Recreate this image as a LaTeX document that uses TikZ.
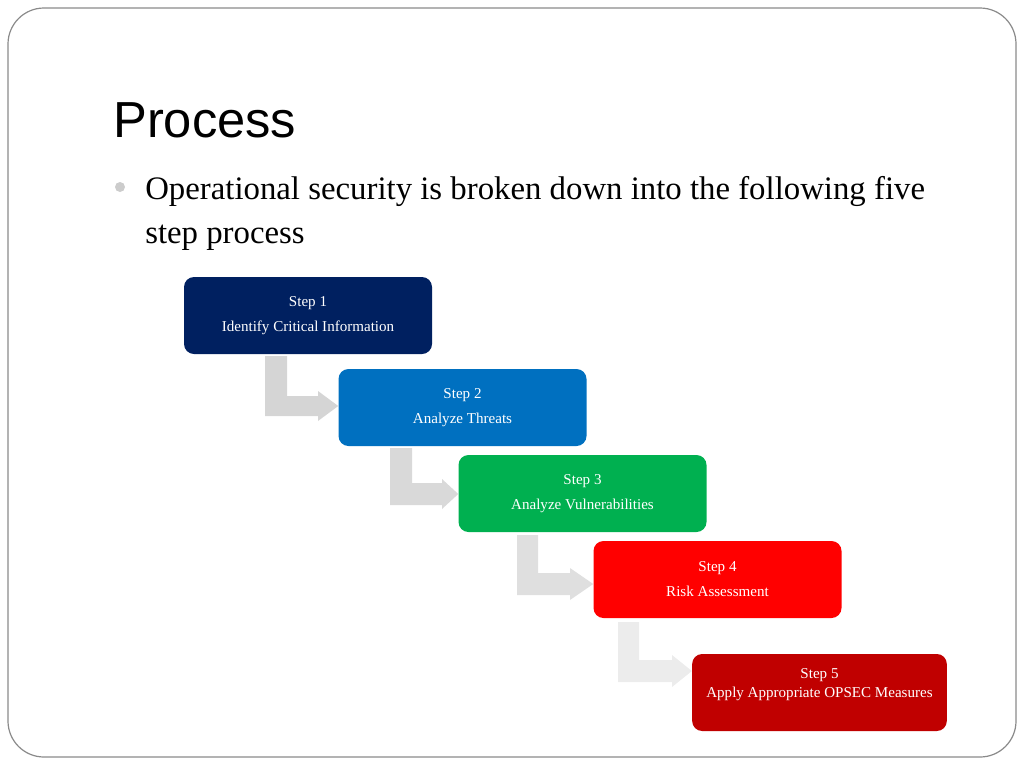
\documentclass[tikz,border=0pt]{standalone}
\usepackage{fontspec}
\setmainfont{Liberation Serif}
\newfontfamily\titlefont{Liberation Sans}
\definecolor{cA}{HTML}{002060}
\definecolor{cB}{HTML}{0070C0}
\definecolor{cC}{HTML}{00B050}
\definecolor{cD}{HTML}{FF0000}
\definecolor{cE}{HTML}{C00000}
\definecolor{frame}{HTML}{8A8A8A}
\tikzset{
  stepbox/.style={rounded corners=7.5pt, minimum width=186pt, minimum height=57.75pt,
    text=white, align=center, font=\fontsize{11.3}{18.75}\selectfont, inner sep=0pt}
}
\begin{document}
\begin{tikzpicture}[x=0.75pt,y=-0.75pt]
\useasboundingbox (0,0) rectangle (1024,768);
\draw[frame, line width=0.9pt, rounded corners=27pt] (8,8) rectangle (1016,757);
\node[anchor=base west, inner sep=0pt, font=\titlefont\fontsize{38}{40}\selectfont] (title) at (113,137) {Process};
\fill[black!20] (120,187) circle (5);
\node[anchor=base west, inner sep=0pt, align=left, font=\fontsize{24.6}{33}\selectfont] (bul) at (145,243)
  {Operational security is broken down into the following five\\step process};
% boxes
\node[stepbox, fill=cA] (b1) at (308,315.5) {Step 1\\Identify Critical Information};
\node[stepbox, fill=cB] (b2) at (462.5,407.5) {Step 2\\Analyze Threats};
\node[stepbox, fill=cC] (b3) at (582.5,493.5) {Step 3\\Analyze Vulnerabilities};
\node[stepbox, fill=cD] (b4) at (717.5,579.5) {Step 4\\Risk Assessment};
\node[stepbox, fill=cE, minimum width=191pt, font=\fontsize{11.3}{14.25}\selectfont] (b5) at (819.5,692.5) {Step 5\\Apply Appropriate OPSEC Measures\\\mbox{}};
% bent arrows
\fill[gray!33] (265,356) -- (287,356) -- (287,396) -- (318,396) -- (318,391) -- (b2.west |- 0,406) -- (318,421) -- (318,416) -- (265,416) -- cycle;
\fill[gray!30] (390,448) -- (412,448) -- (412,483) -- (442,483) -- (442,479) -- (b3.west |- 0,494) -- (442,509) -- (442,505) -- (390,505) -- cycle;
\fill[gray!25] (517,535) -- (538,535) -- (538,573) -- (570,573) -- (570,568) -- (b4.west |- 0,584) -- (570,600) -- (570,595) -- (517,595) -- cycle;
\fill[gray!15] (618,622) -- (639,622) -- (639,660) -- (672,660) -- (672,655) -- (b5.west |- 0,671) -- (672,687) -- (672,682) -- (618,682) -- cycle;
\end{tikzpicture}
\end{document}
